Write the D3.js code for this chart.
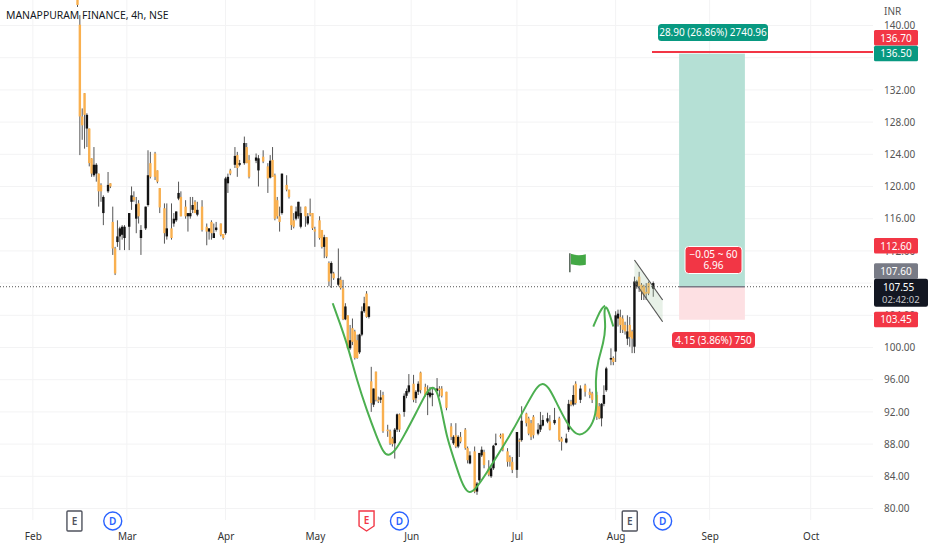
<!DOCTYPE html>
<html>
<head>
<meta charset="utf-8">
<title>MANAPPURAM FINANCE, 4h, NSE</title>
<script src="https://cdn.jsdelivr.net/npm/d3@7"></script>
<style>
  html, body { margin: 0; padding: 0; background: #fff; }
  text { font-family: "Noto Sans", sans-serif; }
</style>
</head>
<body>
<div id="chart"></div>
<script>
// candles, x is the bar number counted from the first visible bar (2 bars a day)
var sessions = [
  0,1,2,3,4,5,6,7,8,9,
  10,11,13,14,15,16,17,18,19,20,
  22,23,24,25,26,27,29,30,31,33,
  34,35,37,38,40,41,42,43,44,46,
  47,48,49,50,51,53,55,56,57,58,
  59,61,62,63,64,65,67,68,69,71,
  72,73,76,77,79,81,82,83,84,85,
  86,87,89,90,91,92,93,94,95,97,
  98,99,100,101,103,104,105,106,107,108,
  109,111,112,113,114,115,116,117,118,119,
  120,121,122,123,124,125,126,127,128,129,
  130,132,133,134,135,136,137,139,140,141,
  143,144,145,146,148,149,150,151,153,154,
  155,157,159,160,161,162,163,165,166,167,
  169,170,171,172,173,175,176,177,178,180,
  181,183,184,185,187,188,189,191,192,193,
  194,196,197,198,200,201,203,205,206,208,
  209,210,211,212,214,216,218,219,221,222,
  223,224,225,227,228,229,230,231,232,233,
  234,235,236,237,238,239,240,241,242,243,
  245
];
var opens = [
  146,140.1,128.7,131.6,127.2,127.2,123.5,121.4,121.6,121.6,
  120.2,116.7,119.4,120.4,115.6,112.3,113.1,113.8,114,113.6,
  115,118.1,118.7,116,117.9,113.6,114.8,117.7,122.9,124.1,
  122,119.8,117.3,113.8,114.8,115.4,115.8,118.5,118.7,117.5,
  116.3,116.3,117.1,118.1,116.5,117.5,115,114.4,115.6,113.6,
  114.6,115.4,114.1,114.2,120.4,122,122.7,123.9,122.7,122.9,
  124.9,123.3,123.2,122,123.7,122.5,121.1,123.3,121.4,118.3,
  116.3,116.7,120.2,119.6,117.6,115.8,116,116.3,115,117.5,
  115.4,116.7,116.7,114.7,115.8,114.6,112.5,113.7,110.5,109.2,
  109.2,107.8,108.4,107.35,103.5,104,99.9,102.4,102,100.9,
  99.4,101.6,104.5,106.7,103.8,95.8,92.9,97,93.5,93.5,
  94.1,89.8,89.6,88.7,88.1,89.8,91.7,92,94,94.5,
  95.5,93.7,94.5,96.9,95.1,94.1,93.9,94.1,94.6,94.9,
  94.9,94.5,90.2,88.1,89.1,87.7,88.9,89.8,87.5,85.6,
  87.1,82.1,83.5,86.6,87,85,84,85,87.9,89.1,
  89.3,87.1,86.4,85.8,84.8,88.5,88.5,91.8,91.2,90.6,
  91.4,89.3,89.8,90.3,90.8,90.8,90.6,91.2,88.7,88.2,
  89.8,93.3,92.9,95.5,93.5,95.3,94.5,94.3,94.1,92.7,
  91.2,93,94.7,98.5,98.7,99.5,103.6,103.8,103.6,102.8,
  101.1,102.8,102,100.1,107.6,108.8,107.8,107.6,106.9,108,
  107.3
];
var highs = [
  146.5,141.3,129.7,131.6,129.1,127.2,123.5,124.9,122.9,121.6,
  120.4,118.9,121.8,120.4,117.5,112.5,115.8,115,115.2,115.2,
  116.7,120,119.4,118.7,118.3,115.2,117.5,124.5,124.3,124.3,
  122,119.8,117.9,117.9,117.9,116.7,116.9,120.6,119.4,118.3,
  116.7,118.7,118.7,118.3,118.1,118.3,115.4,114.8,115.8,115.4,
  115.6,115.4,114.1,121.2,121.6,122.2,124.9,124.3,123.3,126.2,
  125.4,123.9,124.1,123.9,124.5,122.9,123.9,124.9,121.6,118.7,
  117.5,121.6,121.4,119.6,117.6,116.7,117.5,118.1,117.5,117.5,
  116.7,118.5,116.7,115,116.3,114.6,114,113.7,110.7,110.7,
  109.4,112.3,108.8,108.4,105.5,104,102.8,103.6,102.2,101.6,
  101.7,105.1,106.3,107,105.1,97.6,94.9,97,93.9,94.7,
  94.5,90.4,89.8,88.9,90,91.8,91.8,94.3,94.9,96.7,
  96.6,94.7,95.8,97,95.5,95.3,95.1,94.9,96.2,95.2,
  95.2,94.5,90.6,89.1,90.6,89.1,89.5,90,87.7,87.1,
  87.7,83.3,86.9,87.7,87.3,86,85.2,87.9,89.3,89.3,
  89.3,87.5,86.6,86.4,89.5,88.7,92.7,91.9,91.4,91,
  91.6,90.6,92,91.6,91.9,91.6,92.5,91.4,88.9,89.3,
  93.5,93.5,95.3,95.8,95.3,95.5,94.9,94.5,94.5,93.1,
  93.1,95.3,97.6,99.9,98.9,104.5,104.7,104.7,104,103.2,
  104,103.8,102.2,108.8,108.4,109.4,108,107.8,108,108.2,
  108.2
];
var lows = [
  142.3,123.9,125.8,124.7,124.9,122.5,121.2,121.2,120.6,117.5,
  118.1,115.2,119.2,119.8,111.5,109,112.5,112.1,113.4,112.1,
  112.1,117.1,118.1,114.2,115.4,111.5,114.6,117.5,121,120.8,
  120.4,116.7,112.9,113.4,113.4,115,115.6,118.3,116.3,116,
  114.4,116,116.7,116.7,116.3,114.4,112.7,113.4,113.4,113.6,
  114.4,113.8,113.4,114,119.2,121.4,122.3,121.2,122.5,122.7,
  122.9,121,122.9,120,122.9,119.2,121,121.2,115.8,116,
  114.4,116.5,119.4,118.5,114.6,114.8,115.8,116,114.8,115,
  115.2,116.3,114.6,112.5,113.4,112.3,111.1,111.1,107.6,107.4,
  108.4,107.6,107.2,103.4,103.4,99.8,99.7,100.3,98.5,98.6,
  99.2,101.4,104.3,103.7,103.6,92,92.6,93.3,93.1,93.1,
  89.4,88.9,87.9,87.7,86.2,89.5,89.5,91.4,93.7,94.3,
  93.2,93.1,94.1,94.3,93.9,91.6,93.7,92.7,94.5,93.9,
  93.8,92.2,88.5,87.9,87.5,87.5,88.1,87.3,85.6,85.5,
  81.9,81.7,83.3,86.4,85,84,83.8,84.8,87.8,88.7,
  87.1,85.2,85.2,84.4,83.8,86.4,88.3,90.2,89.1,88.5,
  88.7,89.1,89.5,90.2,90.6,89.7,90.4,88.3,87.2,88.1,
  89.5,92.7,92.7,92.9,93.1,93.9,93.7,93.1,91,91.1,
  90.2,92.7,94.5,97.8,97.8,98.2,102.6,101.8,101.8,101.6,
  100.3,100.1,99.3,99.3,107.3,106.9,105.9,105.9,105.9,106.5,
  106.3
];
var closes = [
  142.55,128.7,127.6,128.9,128.9,122.9,121.6,122.7,122.7,119.4,
  119.4,118.7,120.2,120,112.3,109.2,113.8,114.8,115,115,
  116.7,118.9,118.3,117.8,116.3,114.6,117.5,121.4,121.2,121.2,
  120.6,117.4,114.2,114.8,113.6,116,116.9,119.2,116.3,116.3,
  116.7,116.7,117.7,116.7,117.1,114.6,114.4,114.8,114.2,114.2,
  114.9,114,113.6,121,121.2,121.6,123.8,122.3,122.9,125.4,
  122.9,121.2,123.6,123.5,123.1,121,123.2,121.2,116,116.3,
  115.6,121.6,119.6,118.7,115.2,115,116.9,118.1,116.7,116.3,
  116.3,116.5,114.8,114.4,113.6,112.5,113.7,111.3,108.2,110.5,
  108.6,108.6,107.4,103.5,105.1,99.9,100.9,100.7,98.7,98.7,
  101.6,104.5,105.5,103.8,105.1,93.1,94.9,93.5,93.3,93.8,
  89.6,89.6,88.1,88,89.8,91.7,89.8,94,94.6,95.3,
  93.5,94.5,95.5,94.7,94.1,94.5,94.4,94.3,94.9,94.7,
  94,92.5,88.9,88.9,87.7,88.9,88.3,87.5,86,86.6,
  82.1,83.1,86.9,87.3,85.4,84.2,85,87.8,88.1,88.9,
  87.3,85.8,85.8,84.8,89.5,88.3,90.9,90.6,89.3,88.9,
  89.1,89.8,90.4,91,91.2,89.8,91,88.5,88.3,88.7,
  93,92.9,94.1,93.1,94.9,94.5,94.1,93.5,91.4,91.2,
  93,94.1,97.4,98.7,98.2,104,104.2,102.8,102.2,102,
  102,101.3,101.1,108.2,108.2,107.6,106.9,106.5,106.7,106.7,
  108
];

// hand drawn green cup and handle
var curveSessions = [108.6,111.7,115.3,118.8,123.1,127.3,130.2,132.3,135.1,138.7,144.3,148.6,150.7,152.8,155,157.1,159.9,163.5,166.3,169.2,174.1,179.8,185.5,191.1,195.4,197.5,200.4,203.9,208.2,212.4,216,219.5,221.2,220.2,221.6,223.8,224.8,224.1,224.5,225.9,228];
var curvePrices = [105.5,103,99.9,96,92.2,88.9,86.9,86.5,87.1,88.9,92,94.5,95.1,94.9,92.2,88.9,86.4,83.1,81.8,82.3,84.4,87.1,89.8,92.9,95.1,95.6,95.2,93.1,90.6,89,89.3,90.6,92.7,96,98.5,100.5,102.6,104.2,105.2,104.7,102.6];
var hookSessions = [219.5,221.2,223.1,224.5];
var hookPrices = [102.6,103.8,104.9,105.2];

var gridPrices = [80,84,88,92,96,100,104,108,112,116,120,124,128,132,136,140];
var priceLabels = [80,84,88,92,96,100,104,112,116,120,124,128,132,140]; // 108 and 136 sit fully behind the tags
var monthLabels = ["Feb","Mar","Apr","May","Jun","Jul","Aug","Sep","Oct"];
var monthSessions = [-19,21,63,101,142,187,229,269,312];

var eventTypes = ["E","D","E2","D","E","D"];
var eventSessions = [-1.3,15,123,137,235,249];

// long position tool
var entryPrice = 107.55;
var targetPrice = 136.5;
var stopPrice = 103.45;
var redLinePrice = 136.7;
var positionSessions = [256,284];

// falling channel and flag
var channelSessions = [237,249];
var channelTop = [110.87,105.9];
var channelBottom = [108.2,103.2];
var flagSession = 209.5;
var flagPrice = 111.7;

var priceTags = [
  {label:"136.70", price:136.7, color:"#f23645", dy:-14},
  {label:"136.50", price:136.5, color:"#089981", dy:0},
  {label:"112.60", price:112.6, color:"#f23645", dy:0},
  {label:"107.60", price:107.6, color:"#787b86", dy:-15},
  {label:"103.45", price:103.45, color:"#f23645", dy:0}
];

function init(){
    var w = 932;
    var h = 550;
    var paneRight = 873;
    var labelSize = 10;

    var svg = d3.select("#chart")
    .append("svg")
    .attr("width", w)
    .attr("height", h)
    .style("display", "block");

    var x = d3.scaleLinear().domain([0, 245]).range([77.5, 653.25]);
    var y = d3.scaleLinear().domain([80, 140]).range([508.5, 25.5]);

    svg.append("clipPath").attr("id", "pane")
        .append("rect").attr("width", paneRight).attr("height", 498);

    // grid
    svg.selectAll(".hgrid")
        .data(gridPrices)
        .enter()
        .append("line")
        .attr("x1", 0)
        .attr("x2", paneRight)
        .attr("y1", function(d) { return y(d); })
        .attr("y2", function(d) { return y(d); })
        .attr("stroke", "#f3f3f4");

    svg.selectAll(".vgrid")
        .data(monthSessions)
        .enter()
        .append("line")
        .attr("x1", function(d) { return x(d); })
        .attr("x2", function(d) { return x(d); })
        .attr("y1", 0)
        .attr("y2", 520)
        .attr("stroke", "#f3f3f4");

    var pane = svg.append("g").attr("clip-path", "url(#pane)");

    // candles
    var candle = pane.selectAll(".candle")
        .data(sessions)
        .enter()
        .append("g");

    candle.append("line")
        .attr("x1", function(d) { return x(d); })
        .attr("x2", function(d) { return x(d); })
        .attr("y1", function(d, i) { return y(highs[i]); })
        .attr("y2", function(d, i) { return y(lows[i]); })
        .attr("stroke", "#555")
        .attr("stroke-width", 1);

    candle.append("rect")
        .attr("x", function(d) { return x(d) - 1.2; })
        .attr("width", 2.4)
        .attr("y", function(d, i) { return y(Math.max(opens[i], closes[i])); })
        .attr("height", function(d, i) { return Math.max(1, Math.abs(y(opens[i]) - y(closes[i]))); })
        .attr("fill", function(d, i) { return closes[i] >= opens[i] ? "#131313" : "#f9b04f"; });

    // current price line
    pane.append("line")
        .attr("x1", 0)
        .attr("x2", paneRight)
        .attr("y1", y(entryPrice))
        .attr("y2", y(entryPrice))
        .attr("stroke", "#555")
        .attr("stroke-dasharray", "1 2");

    // position tool
    pane.append("rect")
        .attr("x", x(positionSessions[0]))
        .attr("width", x(positionSessions[1]) - x(positionSessions[0]))
        .attr("y", y(targetPrice))
        .attr("height", y(entryPrice) - y(targetPrice))
        .attr("fill", "#b5e0d5");

    pane.append("rect")
        .attr("x", x(positionSessions[0]))
        .attr("width", x(positionSessions[1]) - x(positionSessions[0]))
        .attr("y", y(entryPrice))
        .attr("height", y(stopPrice) - y(entryPrice))
        .attr("fill", "#fde0e3");

    pane.append("line")
        .attr("x1", x(positionSessions[0]))
        .attr("x2", x(positionSessions[1]))
        .attr("y1", y(entryPrice))
        .attr("y2", y(entryPrice))
        .attr("stroke", "#787b86")
        .attr("stroke-width", 1.5);

    pane.append("line")
        .attr("x1", 652)
        .attr("x2", paneRight)
        .attr("y1", y(redLinePrice))
        .attr("y2", y(redLinePrice))
        .attr("stroke", "#f23645")
        .attr("stroke-width", 2);

    // channel
    pane.append("polygon")
        .attr("points", [
            [x(channelSessions[0]), y(channelTop[0])],
            [x(channelSessions[1]), y(channelTop[1])],
            [x(channelSessions[1]), y(channelBottom[1])],
            [x(channelSessions[0]), y(channelBottom[0])]
        ].join(" "))
        .attr("fill", "#a5c8a5")
        .attr("fill-opacity", 0.25);

    [channelTop, channelBottom].forEach(function(c) {
        pane.append("line")
            .attr("x1", x(channelSessions[0]))
            .attr("x2", x(channelSessions[1]))
            .attr("y1", y(c[0]))
            .attr("y2", y(c[1]))
            .attr("stroke", "#555")
            .attr("stroke-width", 1.2);
    });

    // green curve
    var line = d3.line()
        .x(function(d) { return x(d[0]); })
        .y(function(d) { return y(d[1]); })
        .curve(d3.curveBasis);

    pane.append("path")
        .attr("d", line(d3.zip(curveSessions, curvePrices)))
        .attr("fill", "none")
        .attr("stroke", "#4caf50")
        .attr("stroke-width", 2);

    pane.append("path")
        .attr("d", line(d3.zip(hookSessions, hookPrices)))
        .attr("fill", "none")
        .attr("stroke", "#4caf50")
        .attr("stroke-width", 2);

    // flag
    var fx = x(flagSession);
    pane.append("line")
        .attr("x1", fx)
        .attr("x2", fx)
        .attr("y1", y(flagPrice))
        .attr("y2", y(flagPrice) + 19)
        .attr("stroke", "#5d6b60")
        .attr("stroke-width", 1.6);
    pane.append("path")
        .attr("d", "M" + (fx + 1) + "," + (y(flagPrice) + 0.5) +
            "q7,2.5 15,0.5v10.5q-7,1.5 -15,-0.5z")
        .attr("fill", "#43a845");

    // position labels
    function pill(x0, y0, bw, bh, fill, lines, border) {
        var g = svg.append("g");
        g.append("rect")
            .attr("x", x0).attr("y", y0)
            .attr("width", bw).attr("height", bh)
            .attr("rx", 3.5)
            .attr("fill", fill)
            .attr("stroke", border ? "#fff" : "none")
            .attr("stroke-width", border ? 1 : 0);
        lines.forEach(function(t, i) {
            g.append("text")
                .attr("x", x0 + bw / 2)
                .attr("y", y0 + (lines.length == 1 ? bh / 2 + 3.5 : 11 + i * 11.5))
                .attr("text-anchor", "middle")
                .attr("fill", "#fff")
                .attr("font-size", labelSize)
                .text(t);
        });
    }

    pill(658, 24, 110, 17, "#089981", ["28.90 (26.86%) 2740.96"]);
    pill(685, 246.5, 57, 27, "#f23645", ["\u22120.05 ~ 60", "6.96"], true);
    pill(672, 332, 83, 16, "#f23645", ["4.15 (3.86%) 750"]);

    // events under the chart
    var ev = svg.selectAll(".event")
        .data(eventSessions)
        .enter()
        .append("g")
        .attr("transform", function(d) { return "translate(" + x(d) + ",521)"; });

    ev.each(function(d, i) {
        var g = d3.select(this);
        var t = eventTypes[i];
        if (t == "D") {
            g.append("circle").attr("r", 9)
                .attr("fill", "#fff").attr("stroke", "#2962ff").attr("stroke-width", 1.4);
        } else if (t == "E2") {
            g.append("path").attr("d", "M-7.5,-10H7.5V5L0,10L-7.5,5Z")
                .attr("fill", "#fff").attr("stroke", "#f23645").attr("stroke-width", 1.4);
        } else {
            g.append("rect").attr("x", -7.5).attr("y", -10).attr("width", 15).attr("height", 20).attr("rx", 1)
                .attr("fill", "#fff").attr("stroke", "#50535e").attr("stroke-width", 1.4);
        }
        g.append("text")
            .attr("y", t == "E2" ? 3 : 4)
            .attr("text-anchor", "middle")
            .attr("font-size", 10)
            .attr("font-weight", 600)
            .attr("fill", t == "D" ? "#2962ff" : (t == "E2" ? "#f23645" : "#50535e"))
            .text(t == "D" ? "D" : "E");
    });

    // axes
    var yAxis = d3.axisRight(y)
        .tickValues(priceLabels)
        .tickSize(0)
        .tickPadding(0)
        .tickFormat(function(d) { return d3.format(".2f")(d); });

    var gy = svg.append("g")
        .attr("transform", "translate(884,0)")
        .call(yAxis);
    gy.select(".domain").remove();
    gy.selectAll("text")
        .attr("font-family", null)
        .attr("font-size", labelSize)
        .attr("fill", "#555");

    var xAxis = d3.axisBottom(x)
        .tickValues(monthSessions)
        .tickSize(0)
        .tickPadding(0)
        .tickFormat(function(d, i) { return monthLabels[i]; });

    var gx = svg.append("g")
        .attr("transform", "translate(0,533)")
        .call(xAxis);
    gx.select(".domain").remove();
    gx.selectAll("text")
        .attr("font-family", null)
        .attr("font-size", labelSize)
        .attr("fill", "#333");

    svg.append("text")
        .attr("x", 884)
        .attr("y", 15)
        .attr("font-size", labelSize)
        .attr("fill", "#555")
        .text("INR");

    // price tags
    var tag = svg.selectAll(".tag")
        .data(priceTags)
        .enter()
        .append("g")
        .attr("transform", function(d) { return "translate(874," + (y(d.price) + d.dy) + ")"; });

    tag.append("rect")
        .attr("y", -8)
        .attr("width", 44)
        .attr("height", 15.5)
        .attr("rx", 1.5)
        .attr("fill", function(d) { return d.color; });

    tag.append("text")
        .attr("x", 22)
        .attr("y", 3.5)
        .attr("text-anchor", "middle")
        .attr("font-size", labelSize)
        .attr("fill", "#fff")
        .text(function(d) { return d.label; });

    // live price box
    var live = svg.append("g").attr("transform", "translate(874," + y(entryPrice) + ")");
    live.append("rect")
        .attr("y", -8)
        .attr("width", 54)
        .attr("height", 28)
        .attr("rx", 2)
        .attr("fill", "#131722");
    live.append("text")
        .attr("x", 9).attr("y", 4)
        .attr("font-size", labelSize).attr("fill", "#fff").text("107.55");
    live.append("text")
        .attr("x", 8).attr("y", 16)
        .attr("font-size", 9.5).attr("fill", "#c8c8cc").text("02:42:02");

    // title
    svg.append("text")
        .attr("x", 6)
        .attr("y", 19)
        .attr("font-size", 10.4)
        .attr("fill", "#131722")
        .text("MANAPPURAM FINANCE, 4h, NSE");
}
window.onload = init;
</script>
</body>
</html>
